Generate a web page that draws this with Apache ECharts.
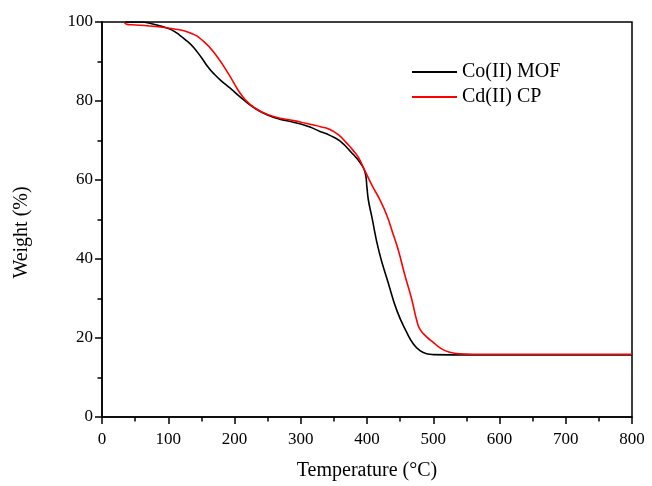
<!DOCTYPE html>
<html>
<head>
<meta charset="utf-8">
<script src="https://cdn.jsdelivr.net/npm/echarts@6/dist/echarts.min.js"></script>
<style>html,body{margin:0;padding:0;background:#fff;}#c{width:652px;height:486px;}</style>
</head>
<body>
<div id="c"></div>
<script>
const seriesNames = ['Co(II) MOF', 'Cd(II) CP'];
const coTemp = [35,60,72,92,105,117,128,138,150,160,170,180,193,213,233,248,268,279,300,314,329,344,359,379,390,397,400,402,407,418,432,445,460,470,480,490,500,550,800];
const coWeight = [100,100,99.7,98.8,98,96.7,95.2,93.6,91.0,88.6,86.7,85.1,83.3,80.4,77.9,76.6,75.4,75.0,74.2,73.4,72.3,71.3,69.9,66.5,64.3,62.0,58,55,50.9,42,34,27,21.4,18.5,16.8,16.0,15.8,15.7,15.7];
const cdTemp = [34,38,45,72,107,132.5,152.6,173,193,208,223,243,263,280,299,314,330,344,358,369,379,387,397,408,419.5,430,440,447,457,467.5,475,480,490,500,512,525,540,560,800];
const cdWeight = [99.8,99.4,99.3,99,98.3,97.3,95.2,91.4,86.3,82.1,79.2,77.1,75.9,75.3,74.7,74.1,73.5,72.8,71.3,69.4,67.5,65.7,62.3,58.5,55,51,46,42.4,36,29.8,24.5,22.2,20.3,18.9,17.3,16.4,16.0,15.9,15.9];
const xTicks = {min: 0, max: 800, interval: 100};
const yTicks = {min: 0, max: 100, interval: 20};

const pair = (xs, ys) => xs.map((x, i) => [x, ys[i]]);
const FONT = 'Liberation Serif';
const chart = echarts.init(document.getElementById('c'), null, {renderer: 'canvas'});
chart.setOption({
  backgroundColor: '#fff',
  animation: false,
  grid: {left: 102, right: 20, top: 22, bottom: 68, show: true, borderColor: '#000', borderWidth: 1.5, backgroundColor: 'transparent'},
  legend: {
    left: 412, top: 62, padding: 0, orient: 'vertical', itemWidth: 45, itemHeight: 2, itemGap: 5,
    icon: 'rect',
    textStyle: {fontFamily: FONT, fontSize: 20, color: '#000'},
    data: seriesNames
  },
  xAxis: {
    type: 'value', min: xTicks.min, max: xTicks.max, interval: xTicks.interval,
    name: 'Temperature (°C)', nameLocation: 'middle', nameGap: 44,
    nameTextStyle: {fontFamily: FONT, fontSize: 20, color: '#000'},
    axisLine: {show: true, onZero: false, lineStyle: {color: '#000', width: 1.5}},
    axisTick: {show: true, inside: false, length: 7, lineStyle: {color: '#000', width: 1.5}},
    minorTick: {show: true, splitNumber: 2, length: 4.5, lineStyle: {color: '#000', width: 1.5}},
    axisLabel: {fontFamily: FONT, fontSize: 17, color: '#000', margin: 14},
    splitLine: {show: false}
  },
  yAxis: {
    type: 'value', min: yTicks.min, max: yTicks.max, interval: yTicks.interval,
    name: 'Weight (%)', nameLocation: 'middle', nameGap: 70,
    nameTextStyle: {fontFamily: FONT, fontSize: 20, color: '#000', padding: [0, 26, 0, 0]},
    axisLine: {show: true, onZero: false, lineStyle: {color: '#000', width: 1.5}},
    axisTick: {show: true, inside: false, length: 7, lineStyle: {color: '#000', width: 1.5}},
    minorTick: {show: true, splitNumber: 2, length: 4.5, lineStyle: {color: '#000', width: 1.5}},
    axisLabel: {fontFamily: FONT, fontSize: 17, color: '#000', margin: 9},
    splitLine: {show: false}
  },
  series: [
    {name: seriesNames[0], type: 'line', data: pair(coTemp, coWeight), showSymbol: false, symbol: 'none', smooth: 0.5,
     lineStyle: {color: '#000', width: 1.6}, itemStyle: {color: '#000'}},
    {name: seriesNames[1], type: 'line', data: pair(cdTemp, cdWeight), showSymbol: false, symbol: 'none', smooth: 0.5,
     lineStyle: {color: '#ff0000', width: 1.6}, itemStyle: {color: '#ff0000'}}
  ]
});
</script>
</body>
</html>
